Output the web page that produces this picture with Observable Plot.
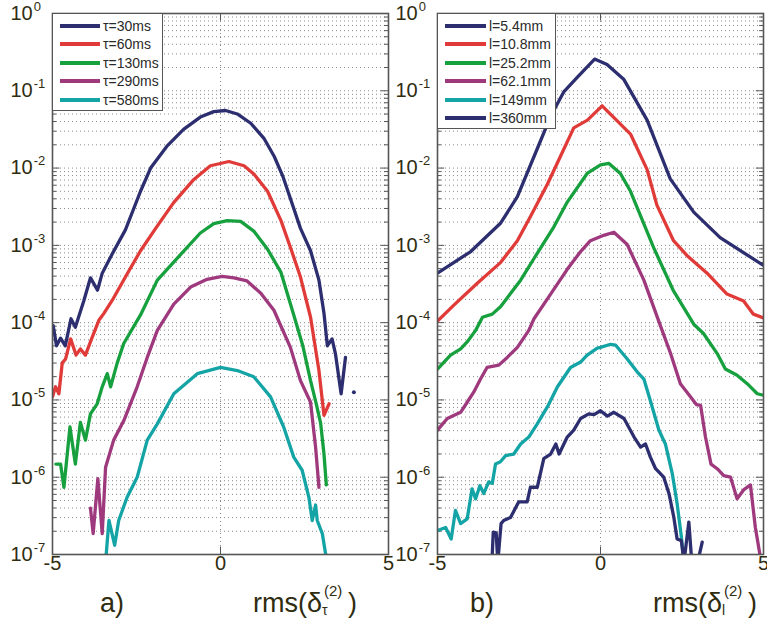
<!DOCTYPE html>
<html><head><meta charset="utf-8">
<script src="https://cdn.jsdelivr.net/npm/d3@7"></script>
<script src="https://cdn.jsdelivr.net/npm/@observablehq/plot@0.6"></script>
<style>
body{margin:0;background:#fff;font-family:"Liberation Sans",Arial,sans-serif;}
#fig{position:relative;width:767px;height:630px;overflow:hidden;background:#fff;}
.panel{position:absolute;top:0;}
.legend{position:absolute;background:#fff;border:1px solid #555;box-sizing:border-box;}
.legend .row{position:absolute;height:18px;display:flex;align-items:center;font-size:14px;color:#2a2a2a;white-space:nowrap;}
.legend .sw{display:inline-block;height:4px;margin-right:3px;}
.lab{position:absolute;color:#2f2c10;font-size:27px;line-height:1;white-space:nowrap;}
.stack{display:inline-block;position:relative;width:26px;height:27px;vertical-align:top;}
.stack .sp{position:absolute;left:2px;top:-7px;font-size:15px;}
.stack .sb{position:absolute;left:0px;top:13px;font-size:14px;}
</style></head><body><div id="fig"></div>
<script>
// ---------- data (x, log10 of PDF) ----------
const xTicks = [-5, 0, 5];
const yExponents = [-7, -6, -5, -4, -3, -2, -1, 0];

const namesA = ["τ=30ms", "τ=60ms", "τ=130ms", "τ=290ms", "τ=580ms"];
const colorsA = ["#2c2e6f", "#e03b38", "#17a03e", "#9f397d", "#14a4a6"];
const namesB = ["l=5.4mm", "l=10.8mm", "l=25.2mm", "l=62.1mm", "l=149mm", "l=360mm"];
const colorsB = ["#2c2e6f", "#e03b38", "#17a03e", "#9f397d", "#14a4a6", "#2c2e6f"];

const tau30 = [[-4.98,-4.04],[-4.88,-4.3],[-4.76,-4.2],[-4.62,-4.3],[-4.45,-3.95],[-4.32,-4.06],[-4.07,-3.72],[-3.87,-3.42],[-3.66,-3.58],[-3.52,-3.36],[-3.22,-3.11],[-2.83,-2.8],[-2.38,-2.3],[-2.08,-2.0],[-1.6,-1.72],[-1.1,-1.5],[-0.6,-1.34],[-0.2,-1.27],[0.15,-1.255],[0.5,-1.3],[0.9,-1.42],[1.3,-1.62],[1.6,-1.85],[1.85,-2.1],[2.1,-2.42],[2.38,-2.78],[2.68,-3.07],[2.93,-3.45],[3.08,-3.88],[3.18,-4.3],[3.32,-4.21],[3.42,-4.4],[3.59,-4.92],[3.72,-4.45]];
const tau30Dot = [[3.97,-4.9]];
const tau60 = [[-5,-4.96],[-4.91,-4.83],[-4.81,-4.92],[-4.71,-4.52],[-4.61,-4.47],[-4.46,-4.21],[-4.3,-4.42],[-4.17,-4.34],[-4.02,-4.42],[-3.82,-4.19],[-3.62,-3.97],[-3.47,-3.88],[-3.22,-3.71],[-2.78,-3.37],[-2.38,-3.07],[-1.93,-2.78],[-1.4,-2.45],[-0.8,-2.15],[-0.3,-1.97],[0.25,-1.915],[0.7,-1.97],[1.0,-2.08],[1.4,-2.3],[1.8,-2.68],[2.1,-3.05],[2.38,-3.41],[2.68,-3.93],[2.93,-4.62],[3.08,-5.2],[3.23,-5.05]];
const tau130 = [[-4.9,-5.83],[-4.76,-5.83],[-4.66,-6.13],[-4.48,-5.35],[-4.32,-5.83],[-4.17,-5.29],[-4.02,-5.52],[-3.87,-5.18],[-3.67,-5.05],[-3.52,-4.83],[-3.37,-4.66],[-3.27,-4.83],[-3.08,-4.53],[-2.88,-4.27],[-2.38,-3.9],[-1.88,-3.45],[-1.19,-3.12],[-0.6,-2.84],[-0.2,-2.72],[0.2,-2.68],[0.6,-2.69],[1.0,-2.82],[1.4,-3.05],[1.8,-3.35],[2.18,-3.9],[2.45,-4.3],[2.68,-4.75],[2.85,-5.05],[2.98,-5.3],[3.08,-5.7],[3.15,-6.1]];
const tau290 = [[-3.87,-6.4],[-3.79,-6.73],[-3.65,-6.02],[-3.52,-6.73],[-3.42,-5.87],[-3.18,-5.52],[-2.88,-5.27],[-2.48,-4.83],[-2.18,-4.45],[-1.88,-4.1],[-1.39,-3.76],[-0.89,-3.54],[-0.4,-3.44],[0.05,-3.4],[0.4,-3.42],[0.79,-3.46],[1.2,-3.62],[1.59,-3.84],[2.08,-4.32],[2.38,-4.75],[2.68,-5.03],[2.83,-5.61],[2.93,-6.13]];
const tau580 = [[-3.42,-7.1],[-3.32,-6.56],[-3.15,-6.88],[-3.03,-6.56],[-2.78,-6.26],[-2.48,-6.0],[-2.18,-5.52],[-1.88,-5.31],[-1.39,-4.92],[-0.69,-4.66],[0.0,-4.58],[0.5,-4.62],[0.99,-4.7],[1.49,-4.96],[1.88,-5.35],[2.18,-5.74],[2.43,-5.91],[2.63,-6.26],[2.73,-6.56],[2.83,-6.36],[2.88,-6.56],[3.03,-6.73],[3.15,-7.05]];

const l54 = [[-5,-3.36],[-3.98,-3.08],[-3.06,-2.71],[-2.55,-2.37],[-1.94,-1.75],[-1.53,-1.33],[-1.12,-1.01],[-0.7,-0.82],[-0.18,-0.59],[0.2,-0.66],[0.71,-0.85],[1.43,-1.38],[2.14,-2.14],[2.86,-2.57],[3.67,-2.9],[5,-3.26]];
const l108 = [[-5,-3.98],[-4.49,-3.77],[-3.78,-3.49],[-3.06,-3.22],[-2.55,-2.94],[-2.14,-2.62],[-1.63,-2.21],[-1.22,-1.84],[-0.82,-1.48],[-0.4,-1.38],[0.05,-1.195],[0.92,-1.56],[1.43,-2.02],[1.73,-2.48],[2.24,-2.94],[2.65,-3.13],[3.27,-3.36],[3.88,-3.63],[4.39,-3.72],[4.69,-3.89],[5,-3.94]];
const l252 = [[-5,-4.6],[-4.6,-4.42],[-4.29,-4.34],[-4.09,-4.25],[-3.83,-4.1],[-3.62,-3.93],[-3.32,-3.89],[-3.06,-3.79],[-2.45,-3.45],[-2.04,-3.17],[-1.43,-2.76],[-1.02,-2.44],[-0.41,-2.07],[0,-1.96],[0.26,-1.94],[0.61,-2.07],[0.92,-2.3],[1.63,-3.03],[2.24,-3.59],[2.86,-4.02],[3.16,-4.14],[3.58,-4.4],[3.83,-4.6],[4.19,-4.68],[4.5,-4.79],[4.81,-4.92],[5,-4.94]];
const l621 = [[-5,-5.39],[-4.7,-5.24],[-4.29,-5.16],[-4.09,-5.03],[-3.89,-4.9],[-3.68,-4.73],[-3.48,-4.58],[-3.12,-4.55],[-2.86,-4.45],[-2.55,-4.32],[-2.2,-4.1],[-2.04,-3.95],[-1.53,-3.63],[-1.02,-3.31],[-0.61,-3.08],[-0.31,-2.94],[0.1,-2.87],[0.41,-2.83],[0.82,-2.99],[1.33,-3.45],[1.89,-4.1],[2.15,-4.4],[2.45,-4.79],[2.76,-4.96],[2.94,-5.06],[3.07,-5.07],[3.22,-5.48],[3.39,-5.83],[3.58,-5.89],[3.78,-5.98],[3.99,-6.0],[4.19,-6.28],[4.4,-6.16],[4.6,-6.1],[4.75,-6.65],[4.91,-7.05]];
const l149 = [[-5,-6.69],[-4.75,-6.65],[-4.58,-6.8],[-4.45,-6.43],[-4.29,-6.6],[-4.09,-6.54],[-3.94,-6.15],[-3.83,-6.28],[-3.7,-6.11],[-3.58,-6.21],[-3.43,-6.06],[-3.32,-6.08],[-3.22,-5.83],[-3.07,-5.8],[-2.91,-5.72],[-2.66,-5.7],[-2.45,-5.57],[-2.2,-5.48],[-1.94,-5.31],[-1.63,-5.09],[-1.32,-4.83],[-0.92,-4.58],[-0.61,-4.51],[-0.41,-4.42],[-0.1,-4.33],[0.0,-4.32],[0.31,-4.28],[0.46,-4.29],[0.82,-4.47],[1.13,-4.64],[1.33,-4.73],[1.53,-5.01],[1.79,-5.39],[1.99,-5.57],[2.2,-5.95],[2.35,-6.34],[2.48,-6.77],[2.56,-7.1]];
const l360 = [[-3.33,-7.1],[-3.29,-6.71],[-3.2,-6.72],[-3.15,-7.1],[-3.05,-6.6],[-2.97,-6.56],[-2.76,-6.52],[-2.51,-6.32],[-2.25,-6.32],[-2.15,-6.13],[-1.94,-6.13],[-1.74,-5.76],[-1.53,-5.7],[-1.37,-5.57],[-1.27,-5.7],[-1.02,-5.48],[-0.82,-5.39],[-0.61,-5.24],[-0.36,-5.18],[-0.2,-5.19],[0,-5.14],[0.21,-5.21],[0.41,-5.16],[0.72,-5.24],[1.03,-5.48],[1.23,-5.61],[1.38,-5.57],[1.53,-5.74],[1.69,-5.89],[1.94,-6.0],[2.1,-6.21],[2.25,-6.52],[2.35,-6.8],[2.48,-6.82],[2.56,-7.1],[2.71,-6.58],[2.8,-7.1],[2.89,null],[2.98,-7.1],[3.12,-6.84]];

// ---------- drawing ----------
const textColor = "#2f2c10";
const fig = document.getElementById("fig");

function rows(list, names) {
  return list.flatMap((s, i) => s.map(([x, e]) => ({x, y: e === null ? NaN : 10 ** e, k: names[i]})));
}

function superscripts(svg) {
  const ns = "http://www.w3.org/2000/svg";
  svg.querySelectorAll('g[aria-label="y-axis tick label"] text').forEach(t => {
    const s = t.textContent, i = s.indexOf("^");
    if (i < 0) return;
    t.textContent = "";
    const a = document.createElementNS(ns, "tspan"); a.textContent = s.slice(0, i);
    const b = document.createElementNS(ns, "tspan"); b.textContent = s.slice(i + 1);
    b.setAttribute("font-size", "13"); b.setAttribute("dy", "-9"); b.setAttribute("dx", "1");
    t.append(a, b);
  });
}

function panel({series, names, colors, width, marginLeft, marginRight, left, extra = []}) {
  const major = yExponents.map(k => 10 ** k);
  const minor = [];
  for (let k = -7; k < 0; k++) for (let m = 2; m <= 9; m++) minor.push(m * 10 ** k);
  const grid = {stroke: "#8a8a8a", strokeDasharray: "1,3", strokeWidth: 1};
  const tk = {stroke: "#555", strokeWidth: 1};
  const svg = Plot.plot({
    width, height: 630, marginLeft, marginRight, marginTop: 13, marginBottom: 76,
    style: {background: "none", overflow: "visible", fontFamily: "'Liberation Sans', Arial, sans-serif"},
    x: {domain: [-5, 5], label: null},
    y: {type: "log", domain: [1e-7, 1], label: null},
    color: {domain: names, range: colors},
    marks: [
      Plot.ruleY(minor.concat(major), grid),
      Plot.ruleX([0], grid),
      Plot.ruleY(major, {...tk, x1: -5, x2: -4.78}),
      Plot.ruleY(major, {...tk, x1: 4.78, x2: 5}),
      Plot.ruleY(minor, {...tk, x1: -5, x2: -4.88}),
      Plot.ruleY(minor, {...tk, x1: 4.88, x2: 5}),
      Plot.ruleX([0], {...tk, y1: 1e-7, y2: 1.25e-7}),
      Plot.ruleX([0], {...tk, y1: 0.8, y2: 1}),
      Plot.line(rows(series, names), {x: "x", y: "y", z: "k", stroke: "k", strokeWidth: 3.3, clip: true, strokeLinejoin: "round"}),
      ...extra,
      Plot.frame({stroke: "#555", strokeWidth: 1.6}),
      Plot.axisY({ticks: major, label: null, tickSize: 0, tickPadding: 0, textAnchor: "start", dx: -42, fontSize: 20, fill: textColor,
        tickFormat: d => "10^" + Math.round(Math.log10(d))}),
      Plot.axisX({ticks: xTicks, label: null, tickSize: 0, tickPadding: 1, fontSize: 20, fill: textColor, tickFormat: d => String(d)})
    ]
  });
  superscripts(svg);
  const wrap = document.createElement("div");
  wrap.className = "panel"; wrap.style.left = left + "px";
  wrap.append(svg);
  fig.append(wrap);
}

panel({series: [tau30, tau60, tau130, tau290, tau580], names: namesA, colors: colorsA,
  width: 400, marginLeft: 52, marginRight: 12, left: 0,
  extra: [Plot.dot(tau30Dot, {x: d => d[0], y: d => 10 ** d[1], r: 2, fill: colorsA[0]})]});
panel({series: [l54, l108, l252, l621, l149, l360], names: namesB, colors: colorsB,
  width: 377, marginLeft: 47, marginRight: 4, left: 390});

function legend(names, colors, left, top, w, h, lineW) {
  const box = document.createElement("div");
  box.className = "legend";
  Object.assign(box.style, {left: left + "px", top: top + "px", width: w + "px", height: h + "px"});
  names.forEach((n, i) => {
    const r = document.createElement("div");
    r.className = "row";
    Object.assign(r.style, {left: "7px", top: (3 + i * 18.4) + "px"});
    const sw = document.createElement("span");
    sw.className = "sw"; sw.style.width = lineW + "px"; sw.style.background = colors[i];
    r.append(sw, document.createTextNode(n));
    box.append(r);
  });
  fig.append(box);
}
legend(namesA, colorsA, 52, 13, 111, 98, 40);
legend(namesB, colorsB, 437, 13, 119, 116, 41);

function bottomLabel(text, left, top) {
  const d = document.createElement("div");
  d.className = "lab"; d.style.left = left + "px"; d.style.top = top + "px";
  d.textContent = text; fig.append(d);
}
function axisLabel(sub, left, top) {
  const d = document.createElement("div");
  d.className = "lab"; d.style.left = left + "px"; d.style.top = top + "px";
  d.innerHTML = 'rms(δ<span class="stack"><span class="sp">(2)</span><span class="sb"></span></span>)';
  d.querySelector(".sb").textContent = sub;
  fig.append(d);
}
bottomLabel("a)", 100, 590);
bottomLabel("b)", 470, 590);
axisLabel("τ", 253, 590);
axisLabel("l", 653, 590);
</script></body></html>
